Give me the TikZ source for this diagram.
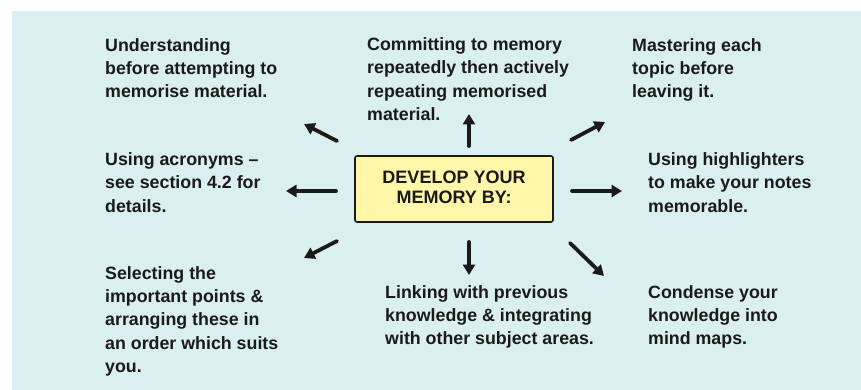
\documentclass[tikz,border=0pt]{standalone}
\usepackage{fontspec}
\setmainfont{Liberation Sans}
\usetikzlibrary{arrows.meta}
\definecolor{bgcyan}{RGB}{218,239,240}
\definecolor{boxyellow}{RGB}{255,246,170}
\definecolor{ink}{RGB}{26,26,26}
\tikzset{
  txt/.style={anchor=north west, inner sep=0pt, align=left, text=ink,
    font=\bfseries\fontsize{17.8}{23.3}\selectfont},
  centralbox/.style={draw=ink, line width=1.6pt, fill=boxyellow, rounded corners=2pt,
    minimum width=198pt, minimum height=66pt, inner sep=0pt, align=center, text=ink,
    font=\bfseries\fontsize{18}{21.7}\selectfont},
  arr/.style={draw=ink, line width=3.8pt, line cap=round,
    -{Triangle[width=12pt,length=10.5pt]}}
}
\begin{document}
\begin{tikzpicture}[x=1pt,y=-1pt]
\useasboundingbox (0,0) rectangle (861,390);
\fill[white] (0,0) rectangle (861,390);
\fill[bgcyan] (12,11) rectangle (861,390);

\node[centralbox] (c) at (454,189) {\raisebox{4pt}{\begin{tabular}{@{}c@{}}DEVELOP YOUR\\[-1.3pt]MEMORY BY:\end{tabular}}};

\node[txt] (tl) at (105,38) {Understanding\\before attempting to\\memorise material.};
\node[txt] (tc) at (367,37.5) {Committing to memory\\repeatedly then actively\\repeating memorised\\material.};
\node[txt] (tr) at (632,38) {Mastering each\\topic before\\leaving it.};
\node[txt] (ml) at (105,152.5) {Using acronyms –\\see section 4.2 for\\details.};
\node[txt] (mr) at (648,152.5) {Using highlighters\\to make your notes\\memorable.};
\node[txt] (bl) at (105,266) {Selecting the\\important points \&\\arranging these in\\an order which suits\\you.};
\node[txt] (bc) at (385,285) {Linking with previous\\knowledge \& integrating\\with other subject areas.};
\node[txt] (br) at (648,285) {Condense your\\knowledge into\\mind maps.};

\coordinate (uS) at (469,146);  \coordinate (uE) at (469,114);
\coordinate (dS) at (469,242);  \coordinate (dE) at (469,275);
\coordinate (lS) at (336,191);  \coordinate (lE) at (286,191);
\coordinate (rS) at (572,191);  \coordinate (rE) at (622,191);
\coordinate (ulS) at (337,141); \coordinate (ulE) at (304,124);
\coordinate (dlS) at (337,241); \coordinate (dlE) at (304,258);
\coordinate (urS) at (571,140); \coordinate (urE) at (605,122);
\coordinate (drS) at (570,243); \coordinate (drE) at (604,276);

\draw[arr] (uS) -- (uE);
\draw[arr] (dS) -- (dE);
\draw[arr] (lS) -- (lE);
\draw[arr] (rS) -- (rE);
\draw[arr] (ulS) -- (ulE);
\draw[arr] (dlS) -- (dlE);
\draw[arr] (urS) -- (urE);
\draw[arr] (drS) -- (drE);
\end{tikzpicture}
\end{document}
